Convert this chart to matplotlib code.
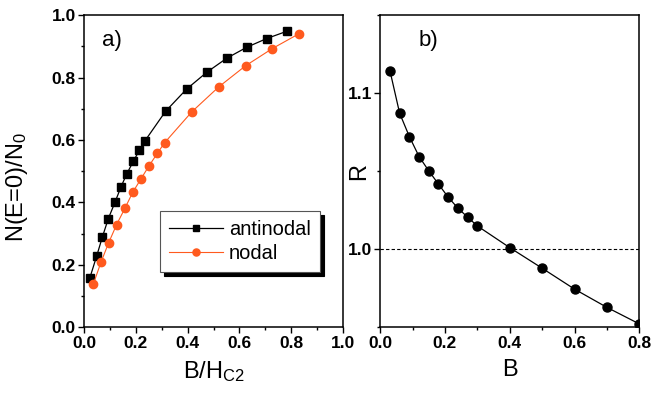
import matplotlib
matplotlib.use('Agg')
import matplotlib.pyplot as plt
from matplotlib.ticker import MultipleLocator

plt.rcParams['font.family'] = ['Liberation Sans', 'DejaVu Sans']
plt.rcParams['mathtext.default'] = 'regular'

# panel a) data
anti_x = [0.023, 0.049, 0.071, 0.094, 0.120, 0.143, 0.165, 0.190, 0.214, 0.236,
          0.315, 0.396, 0.474, 0.551, 0.628, 0.705, 0.785]
anti_y = [0.159, 0.228, 0.289, 0.348, 0.401, 0.450, 0.491, 0.531, 0.567, 0.598,
          0.692, 0.763, 0.817, 0.862, 0.897, 0.925, 0.949]
nodal_x = [0.036, 0.066, 0.095, 0.126, 0.158, 0.188, 0.219, 0.251, 0.283, 0.311,
           0.416, 0.520, 0.624, 0.727, 0.831]
nodal_y = [0.138, 0.209, 0.270, 0.329, 0.381, 0.432, 0.474, 0.517, 0.557, 0.591,
           0.690, 0.770, 0.838, 0.893, 0.941]

# panel b) data
b_vals = [0.03, 0.06, 0.09, 0.12, 0.15, 0.18, 0.21, 0.24, 0.27, 0.30,
          0.40, 0.50, 0.60, 0.70, 0.80]
r_vals = [1.1145, 1.0872, 1.0722, 1.0594, 1.0502, 1.0417, 1.0333, 1.0263, 1.0205, 1.0149,
          1.001, 0.9878, 0.9744, 0.9627, 0.9521]

orange = '#ff5a1e'

fig = plt.figure(figsize=(6.51, 3.99), dpi=100)
ax1 = fig.add_axes([0.129, 0.180, 0.398, 0.782])
ax2 = fig.add_axes([0.584, 0.180, 0.398, 0.782])

ax1.plot(anti_x, anti_y, color='black', lw=0.9, marker='s', ms=5.5, label='antinodal')
ax1.plot(nodal_x, nodal_y, color=orange, lw=0.8, marker='o', ms=6, label='nodal')
ax1.set_xlim(0, 1.0)
ax1.set_ylim(0, 1.0)
ax1.xaxis.set_major_locator(MultipleLocator(0.2))
ax1.xaxis.set_minor_locator(MultipleLocator(0.1))
ax1.yaxis.set_major_locator(MultipleLocator(0.2))
ax1.yaxis.set_minor_locator(MultipleLocator(0.1))
ax1.set_xlabel('B/H$_{C2}$', fontsize=17, labelpad=6)
ax1.set_ylabel('N(E=0)/N$_0$', fontsize=17)
ax1.yaxis.set_label_coords(-0.21, 0.45)
ax1.text(0.07, 0.92, 'a)', transform=ax1.transAxes, fontsize=16, va='center')
leg = ax1.legend(loc='lower right', bbox_to_anchor=(0.95, 0.145), fontsize=14.5,
                 fancybox=False, edgecolor='#555555', framealpha=1,
                 shadow={'color': 'black', 'alpha': 1, 'ox': 3, 'oy': -3},
                 handlelength=2.7, handletextpad=0.3, borderpad=0.45, labelspacing=0.25,
                 markerscale=0.85)
leg.get_frame().set_linewidth(0.8)

ax2.plot(b_vals, r_vals, color='black', lw=0.9, marker='o', ms=6.5)
ax2.axhline(1.0, color='black', lw=0.8, ls=(0, (3, 2)))
ax2.set_xlim(0, 0.8)
ax2.set_ylim(0.95, 1.15)
ax2.xaxis.set_major_locator(MultipleLocator(0.2))
ax2.xaxis.set_minor_locator(MultipleLocator(0.1))
ax2.yaxis.set_major_locator(MultipleLocator(0.1))
ax2.yaxis.set_minor_locator(MultipleLocator(0.05))
ax2.set_xlabel('B', fontsize=17, labelpad=6)
ax2.set_ylabel('R', fontsize=17)
ax2.yaxis.set_label_coords(-0.04, 0.5)
ax2.text(0.147, 0.92, 'b)', transform=ax2.transAxes, fontsize=16, va='center')

for ax in (ax1, ax2):
    for s in ax.spines.values():
        s.set_linewidth(1.1)
    ax.tick_params(which='both', direction='out', top=False, right=False, width=1.0)
    ax.tick_params(which='major', length=4, labelsize=12.5, pad=2)
    ax.tick_params(which='minor', length=2.5)
    for lbl in ax.get_xticklabels() + ax.get_yticklabels():
        lbl.set_fontweight('bold')

fig.savefig('out.png', dpi=100)
